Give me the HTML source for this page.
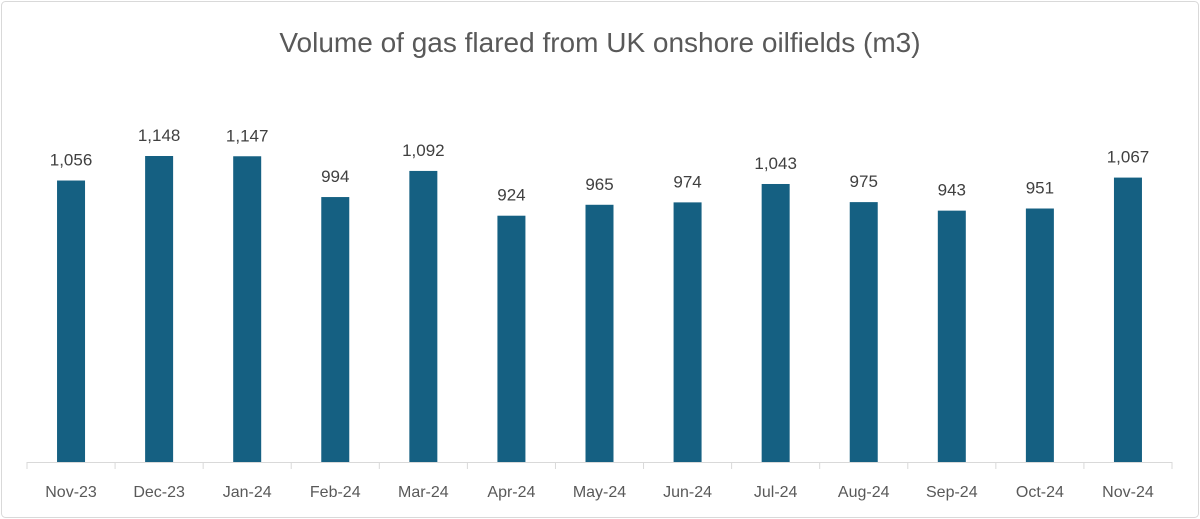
<!DOCTYPE html>
<html><head><meta charset="utf-8"><style>
body{margin:0;background:#fff;}
svg{display:block;font-family:"Liberation Sans",sans-serif;}
</style></head><body>
<svg width="1200" height="519">
<rect x="1.5" y="1.5" width="1197" height="516" rx="4" fill="#fff" stroke="#d9d9d9"/>
<text x="600" y="52" text-anchor="middle" font-size="28" fill="#595959">Volume of gas flared from UK onshore oilfields (m3)</text>
<g id="plot"></g>
</svg>
<script>
const categories=["Nov-23","Dec-23","Jan-24","Feb-24","Mar-24","Apr-24","May-24","Jun-24","Jul-24","Aug-24","Sep-24","Oct-24","Nov-24"];
const values=[1056,1148,1147,994,1092,924,965,974,1043,975,943,951,1067];
const valueLabels=["1,056","1,148","1,147","994","1,092","924","965","974","1,043","975","943","951","1,067"];
const ns="http://www.w3.org/2000/svg";
const g=document.getElementById('plot');
const x0=27,x1=1172,base=462,scale=306/1148;
const step=(x1-x0)/categories.length;
const xc=i=>x0+step*(i+0.5);
const y=v=>base-v*scale;
function mk(t,a){const e=document.createElementNS(ns,t);for(const k in a)e.setAttribute(k,a[k]);g.appendChild(e);return e;}
categories.forEach((c,i)=>{
  const r=mk('rect',{x:xc(i)-14,y:y(values[i]),width:28,height:base-y(values[i]),fill:'#156082'});
  
  
  const t=mk('text',{x:xc(i),y:y(values[i])-15,'text-anchor':'middle','font-size':'17',fill:'#404040'});
  t.textContent=valueLabels[i];
  
  
  const l=mk('text',{x:xc(i),y:497,'text-anchor':'middle','font-size':'16',fill:'#595959'});
  l.textContent=c;
  
  
});
for(let i=0;i<=categories.length;i++){
  const tk=mk('line',{x1:x0+step*i,x2:x0+step*i,y1:base,y2:469,stroke:'#d9d9d9'});
  
  
}
const ax=mk('line',{x1:x0,x2:x1,y1:base+0.5,y2:base+0.5,stroke:'#d9d9d9'});


</script>
</body></html>
